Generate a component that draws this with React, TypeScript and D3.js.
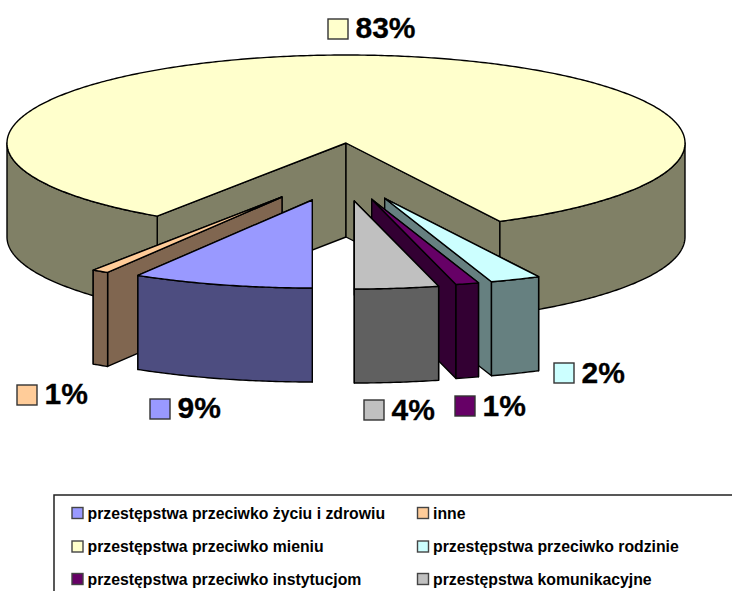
import React from "react";
import * as d3 from "d3";

const categories = [
  "przestępstwa przeciwko życiu i zdrowiu",
  "inne",
  "przestępstwa przeciwko mieniu",
  "przestępstwa przeciwko rodzinie",
  "przestępstwa przeciwko instytucjom",
  "przestępstwa komunikacyjne",
];
const shares = [8.6, 0.8, 83.1, 2.4, 1.1, 4.0];
const shareLabels = ["9%", "1%", "83%", "2%", "1%", "4%"];
const topColors = ["#9999FF", "#FFCC99", "#FFFFCC", "#CCFFFF", "#660066", "#C0C0C0"];
const sideColors = ["#4D4D80", "#806650", "#808066", "#668080", "#330033", "#606060"];

// layout
const W = 732;
const H = 591;
const CX = 346;
const CY = 143;
const RX = 339;
const RY = 88;
const DEPTH = 94;
const explode: [number, number][] = [
  [-33.7, 57],
  [-64, 54],
  [0, 0],
  [38.7, 55.3],
  [25.7, 56.3],
  [8.3, 58],
];
const drawOrder = [2, 1, 3, 4, 5, 0];
const labelPos: [number, number, number][] = [
  [150, 399, 418],
  [17, 385, 404],
  [328, 19, 38],
  [554, 363, 383],
  [455, 396, 416],
  [364, 400, 420],
];
const legendRows = [507.5, 541, 573.5];
const legendCols = [72, 417.5];

const pieGen = d3
  .pie<number>()
  .sort(null)
  .startAngle(Math.PI)
  .endAngle(3 * Math.PI);
const arcs = pieGen(shares);

const sx = d3.scaleLinear().domain([-1, 1]).range([CX - RX, CX + RX]);
const sy = d3.scaleLinear().domain([-1, 1]).range([CY - RY, CY + RY]);

type P = [number, number];
const line = d3.line<P>().x((d) => d[0]).y((d) => d[1]);

function pt(a: number, o: [number, number], r = 1, dz = 0): P {
  return [sx(r * Math.sin(a)) + o[0], sy(-r * Math.cos(a)) + o[1] + dz];
}
function arcPts(a0: number, a1: number, o: [number, number], dz = 0): P[] {
  const n = Math.max(2, Math.ceil(Math.abs(a1 - a0) / 0.01));
  return d3.range(n + 1).map((i) => pt(a0 + ((a1 - a0) * i) / n, o, 1, dz));
}

const STROKE = { stroke: "#000", strokeWidth: 1.4, strokeLinejoin: "round" as const };

function Slice({ i }: { i: number }) {
  const { startAngle: a0, endAngle: a1 } = arcs[i];
  const o = explode[i];
  const side = sideColors[i];
  const apex = pt(0, o, 0);
  const apexB = pt(0, o, 0, DEPTH);
  const face = (a: number) => line([apex, pt(a, o), pt(a, o, 1, DEPTH), apexB])! + "Z";
  // the nearer cut face is painted last
  const mid = ((a0 + a1) / 2) % (2 * Math.PI);
  const faces = mid > Math.PI ? [a1, a0] : [a0, a1];
  // visible outer wall: lower half of the ellipse (pi/2 .. 3pi/2)
  const walls: [number, number][] = [];
  for (const k of [0, 1]) {
    const lo = Math.PI / 2 + k * 2 * Math.PI;
    const hi = (3 * Math.PI) / 2 + k * 2 * Math.PI;
    const from = Math.max(lo, a0);
    const to = Math.min(hi, a1);
    if (to > from) walls.push([from, to]);
  }
  return (
    <g>
      {faces.map((a, k) => (
        <path key={k} d={face(a)} fill={side} {...STROKE} />
      ))}
      {walls.map(([f, t], k) => (
        <path
          key={k}
          d={line([...arcPts(f, t, o), ...arcPts(t, f, o, DEPTH)])! + "Z"}
          fill={side}
          {...STROKE}
        />
      ))}
      <path d={line([apex, ...arcPts(a0, a1, o)])! + "Z"} fill={topColors[i]} {...STROKE} />
    </g>
  );
}

export default function App() {
  return (
    <svg
      width={W}
      height={H}
      viewBox={`0 0 ${W} ${H}`}
      style={{ position: "absolute", left: 0, top: 0, background: "#fff" }}
      fontFamily="'Liberation Sans', Arial, sans-serif"
      fontWeight="bold"
    >
      {drawOrder.map((i) => (
        <Slice key={i} i={i} />
      ))}
      {shareLabels.map((t, i) => {
        const [kx, ky, base] = labelPos[i];
        return (
          <g key={i}>
            <rect x={kx} y={ky} width={20} height={20} fill={topColors[i]} stroke="#333" strokeWidth={1.4} />
            <text x={kx + 27.5} y={base} fontSize={30} fill="#000" stroke="#000" strokeWidth={0.3}>
              {t}
            </text>
          </g>
        );
      })}
      <path d={`M54 ${H}V495H${W}`} fill="none" stroke="#222" strokeWidth={1.5} />
      {categories.map((c, idx) => {
        const x = legendCols[idx % 2];
        const y = legendRows[Math.floor(idx / 2)];
        return (
          <g key={c}>
            <rect x={x} y={y} width={11} height={11} fill={topColors[idx]} stroke="#444" strokeWidth={1.4} />
            <text x={x + 15.5} y={y + 11} fontSize={15.8} fill="#000">
              {c}
            </text>
          </g>
        );
      })}
    </svg>
  );
}
